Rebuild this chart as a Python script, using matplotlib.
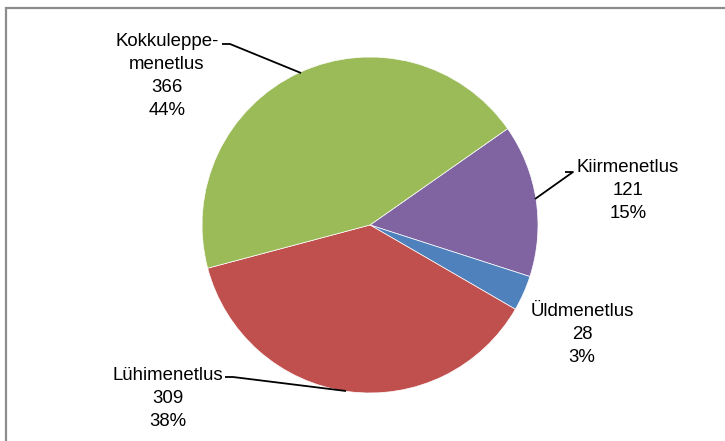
import matplotlib.pyplot as plt

plt.rcParams['font.family'] = ['Liberation Sans Narrow', 'Liberation Sans', 'DejaVu Sans']

# data
names = ['Kiirmenetlus', 'Üldmenetlus', 'Lühimenetlus', 'Kokkuleppe-\nmenetlus']
values = [121, 28, 309, 366]
colors = ['#8064A2', '#4F81BD', '#C0504D', '#9BBB59']

W, H = 725, 441
fig = plt.figure(figsize=(W / 100, H / 100), dpi=100)
ax = fig.add_axes([0, 0, 1, 1])


# pixel coords from the top -> data coords
def py(y):
    return H - y


ax.pie(values, colors=colors, startangle=35, counterclock=False,
       center=(370, py(225)), radius=168, frame=True,
       wedgeprops=dict(edgecolor='white', linewidth=0.5))
ax.set_xlim(0, W)
ax.set_ylim(0, H)
ax.set_aspect('equal')
ax.axis('off')

total = sum(values)
# label centre x, top of first line, and leader line points
label_pos = [(628, 159), (582, 303), (168, 367), (167, 33)]
leaders = [
    [(565, 172), (573, 172), (535, 199)],
    None,
    [(225, 377), (233, 377), (346, 391)],
    [(222, 44), (230, 44), (301, 73)],
]

for name, v, (lx, ly), lead in zip(names, values, label_pos, leaders):
    pct = int(v / total * 100 + 0.5)
    txt = f"{name}\n{v}\n{pct}%"
    ax.text(lx, py(ly), txt, ha='center', va='top', fontsize=13.4,
            linespacing=1.45, color='black')
    if lead:
        xs = [p[0] for p in lead]
        ys = [py(p[1]) for p in lead]
        ax.plot(xs, ys, color='black', lw=1.3, solid_capstyle='butt')

# chart frame (only left and top edges visible)
ax.plot([6.5, 6.5, W], [0, py(8), py(8)], color='#8c8c8c', lw=1.6,
        solid_joinstyle='miter', clip_on=False)

fig.savefig('out.png', dpi=100)
